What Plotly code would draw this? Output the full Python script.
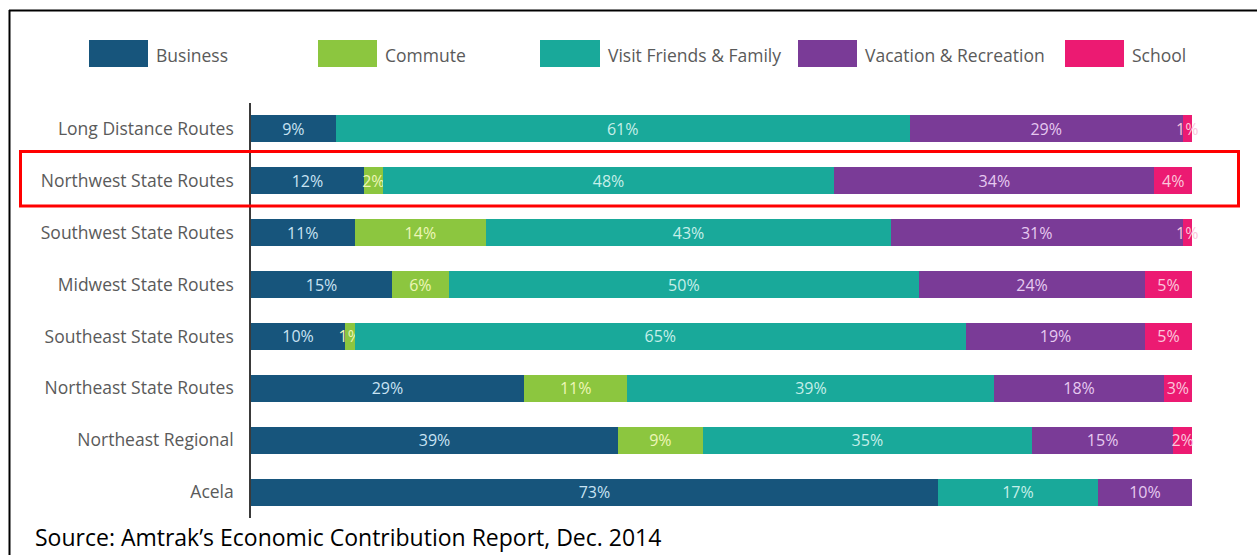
import plotly.graph_objects as go

categories = [
    "Long Distance Routes",
    "Northwest State Routes",
    "Southwest State Routes",
    "Midwest State Routes",
    "Southeast State Routes",
    "Northeast State Routes",
    "Northeast Regional",
    "Acela",
]
series_names = ["Business", "Commute", "Visit Friends & Family", "Vacation & Recreation", "School"]
business = [9, 12, 11, 15, 10, 29, 39, 73]
commute = [0, 2, 14, 6, 1, 11, 9, 0]
visit = [61, 48, 43, 50, 65, 39, 35, 17]
vacation = [29, 34, 31, 24, 19, 18, 15, 10]
school = [1, 4, 1, 5, 5, 3, 2, 0]
source_text = "Source: Amtrak\u2019s Economic Contribution Report, Dec. 2014"

series_values = [business, commute, visit, vacation, school]
colors = ["#17557c", "#8cc63f", "#19a99a", "#7a3b97", "#ec1a72"]
text_colors = ["#c9e3f3", "#eef6b8", "#c6efe9", "#e6c9f0", "#fbc6dc"]

W, H = 1257, 555
L, R, T, B = 251, 1192, 103, 518


def px(x):
    return (x - L) / (R - L)


def py(y):
    return (B - y) / (B - T)


fig = go.Figure()
for name, vals, col, tcol in zip(series_names, series_values, colors, text_colors):
    fig.add_trace(go.Bar(
        y=categories, x=vals, name=name, orientation="h",
        marker=dict(color=col, line=dict(width=0)),
        text=[f"{v}%" if v > 0 else "" for v in vals],
        texttemplate="%{text}",
        textposition="inside", insidetextanchor="middle", textangle=0,
        textfont=dict(family="Open Sans", size=16, color=tcol),
        cliponaxis=False,
        showlegend=False, hoverinfo="skip",
    ))

shapes = []
annotations = []
# custom legend with large swatches
legend_boxes = [(89, 148), (318, 377), (540, 600), (798, 857), (1065, 1124)]
for (x0, x1), name, col in zip(legend_boxes, series_names, colors):
    shapes.append(dict(type="rect", xref="paper", yref="paper",
                       x0=px(x0), x1=px(x1), y0=py(67), y1=py(40),
                       fillcolor=col, line=dict(width=0)))
    annotations.append(dict(xref="paper", yref="paper", x=px(x1 + 6), y=py(55),
                            text=name, showarrow=False, xanchor="left", yanchor="middle",
                            font=dict(family="Open Sans", size=17.5, color="#5a5a5a")))

# image border lines (top and left)
shapes.append(dict(type="line", xref="paper", yref="paper",
                   x0=px(9), x1=px(1257), y0=py(10.5), y1=py(10.5),
                   line=dict(color="black", width=2)))
shapes.append(dict(type="line", xref="paper", yref="paper",
                   x0=px(9.5), x1=px(9.5), y0=py(10), y1=py(555),
                   line=dict(color="black", width=2)))
# red highlight rectangle
shapes.append(dict(type="rect", xref="paper", yref="paper",
                   x0=px(20.5), x1=px(1238.5), y0=py(206), y1=py(151.5),
                   line=dict(color="#ff0000", width=3)))

annotations.append(dict(xref="paper", yref="paper", x=px(33), y=py(537),
                        text=source_text, showarrow=False, xanchor="left", yanchor="middle",
                        font=dict(family="Open Sans", size=23, color="black")))

fig.update_layout(
    barmode="stack",
    width=W, height=H,
    margin=dict(l=L, r=W - R, t=T, b=H - B, autoexpand=False),
    paper_bgcolor="white", plot_bgcolor="white",
    bargap=0.48,
    uniformtext=dict(minsize=16, mode="show"),
    xaxis=dict(range=[0, 100], visible=False, fixedrange=True),
    yaxis=dict(autorange="reversed", showline=True, linecolor="#3a3a3a", linewidth=1.5,
               ticks="", showgrid=False, ticklabelstandoff=12, fixedrange=True,
               tickfont=dict(family="Open Sans", size=17.5, color="#5a5a5a")),
    shapes=shapes,
    annotations=annotations,
    showlegend=False,
)

fig.write_html("out.html", config={"displayModeBar": False},
               post_script="document.body.style.margin='0';document.body.style.overflow='hidden';")
